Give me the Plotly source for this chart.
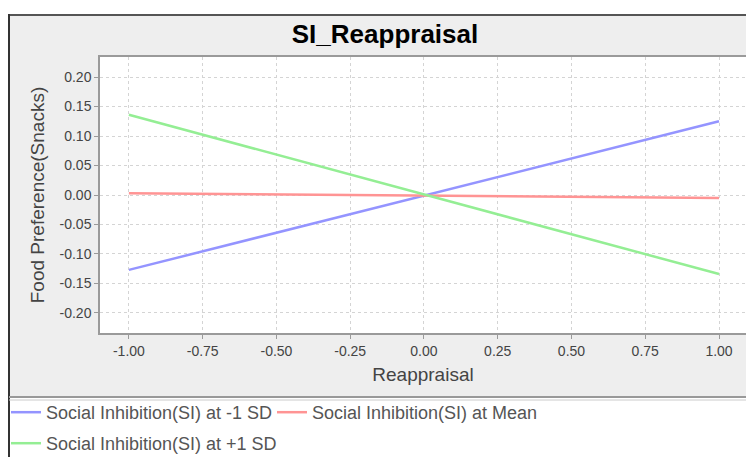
import plotly.graph_objects as go

# Simple-slopes data: food preference vs reappraisal at three SI levels
reappraisal = [-1.0, 1.0]
si_minus_1sd = [-0.127, 0.125]
si_mean = [0.003, -0.005]
si_plus_1sd = [0.136, -0.134]

x_ticks = [-1.0, -0.75, -0.5, -0.25, 0.0, 0.25, 0.5, 0.75, 1.0]
y_ticks = [-0.20, -0.15, -0.10, -0.05, 0.0, 0.05, 0.10, 0.15, 0.20]

W, H = 746, 457
L, R, T, B = 100, 0, 57, 124
PW, PH = W - L - R, H - T - B


def px(xpix):
    return (xpix - L) / PW


def py(ypix):
    return (H - B - ypix) / PH


def cx(xpix):
    return xpix / W


def cy(ypix):
    return 1 - ypix / H


fig = go.Figure()

series = [
    ("Social Inhibition(SI) at -1 SD", si_minus_1sd, "#9494ff", "legend"),
    ("Social Inhibition(SI) at Mean", si_mean, "#ff9494", "legend3"),
    ("Social Inhibition(SI) at +1 SD", si_plus_1sd, "#94ee94", "legend2"),
]
for name, vals, color, lg in series:
    fig.add_trace(go.Scatter(
        x=reappraisal, y=vals, mode="lines", name=name,
        line=dict(color=color, width=2.5), legend=lg,
    ))

shapes = [
    # grey chart panel
    dict(type="rect", xref="paper", yref="paper", x0=px(9), x1=px(W + 2),
         y0=py(398), y1=py(15), fillcolor="#eeeeee",
         line=dict(width=0), layer="below"),
    # white plot area
    dict(type="rect", xref="paper", yref="paper", x0=0, x1=1, y0=0, y1=1,
         fillcolor="white", line=dict(width=0), layer="below"),
    # panel frame lines
    dict(type="line", xref="paper", yref="paper", x0=px(8), x1=px(W + 2),
         y0=py(15), y1=py(15), line=dict(color="#555555", width=2)),
    dict(type="line", xref="paper", yref="paper", x0=px(9), x1=px(9),
         y0=py(14), y1=py(H + 2), line=dict(color="#333333", width=2)),
    dict(type="line", xref="paper", yref="paper", x0=px(9), x1=px(W + 2),
         y0=py(397), y1=py(397), line=dict(color="#999999", width=2)),
    dict(type="line", xref="paper", yref="paper", x0=px(9), x1=px(W + 2),
         y0=py(400), y1=py(400), line=dict(color="#cccccc", width=1)),
]

legend_font = dict(size=18, color="#555555")


def legend_box(xpix, ypix):
    return dict(
        orientation="h", xref="container", yref="container",
        x=cx(xpix), y=cy(ypix), xanchor="left", yanchor="top",
        bgcolor="rgba(0,0,0,0)", font=legend_font, itemwidth=30,
    )


fig.update_layout(
    template="none",
    width=W, height=H,
    margin=dict(l=L, r=R, t=T, b=B, pad=0, autoexpand=False),
    paper_bgcolor="white",
    plot_bgcolor="rgba(0,0,0,0)",
    font=dict(family="Liberation Sans, Arial, sans-serif", color="#444444"),
    title=dict(text="<b>SI_Reappraisal</b>", x=385 / W, xanchor="center",
               y=1 - 34 / H, yanchor="middle",
               font=dict(size=26, color="#000000")),
    shapes=shapes,
    showlegend=True,
    xaxis=dict(
        range=[-1.098, 1.0915], tickvals=x_ticks,
        ticktext=[f"{v:.2f}" for v in x_ticks], automargin=False,
        showgrid=True, gridcolor="#d4d4d4", griddash="dot", gridwidth=1,
        zeroline=False, showline=True, linecolor="#9a9a9a", linewidth=1.5,
        mirror=True, ticks="outside", ticklen=4, tickcolor="#9a9a9a",
        tickfont=dict(size=14, color="#444444"),
        title=dict(text="Reappraisal", font=dict(size=19, color="#444444"),
                   standoff=10),
    ),
    yaxis=dict(
        range=[-0.234, 0.234], tickvals=y_ticks,
        ticktext=[f"{v:.2f}" for v in y_ticks], automargin=False,
        showgrid=True, gridcolor="#d4d4d4", griddash="dot", gridwidth=1,
        zeroline=False, showline=True, linecolor="#9a9a9a", linewidth=1.5,
        mirror=True, ticks="outside", ticklen=4, tickcolor="#9a9a9a",
        tickfont=dict(size=14, color="#444444"),
        title=dict(text="Food Preference(Snacks)",
                   font=dict(size=19, color="#444444"), standoff=10),
    ),
    legend=legend_box(6, 394),
    legend3=legend_box(272, 394),
    legend2=legend_box(6, 425),
)

fig.write_html("out.html")
